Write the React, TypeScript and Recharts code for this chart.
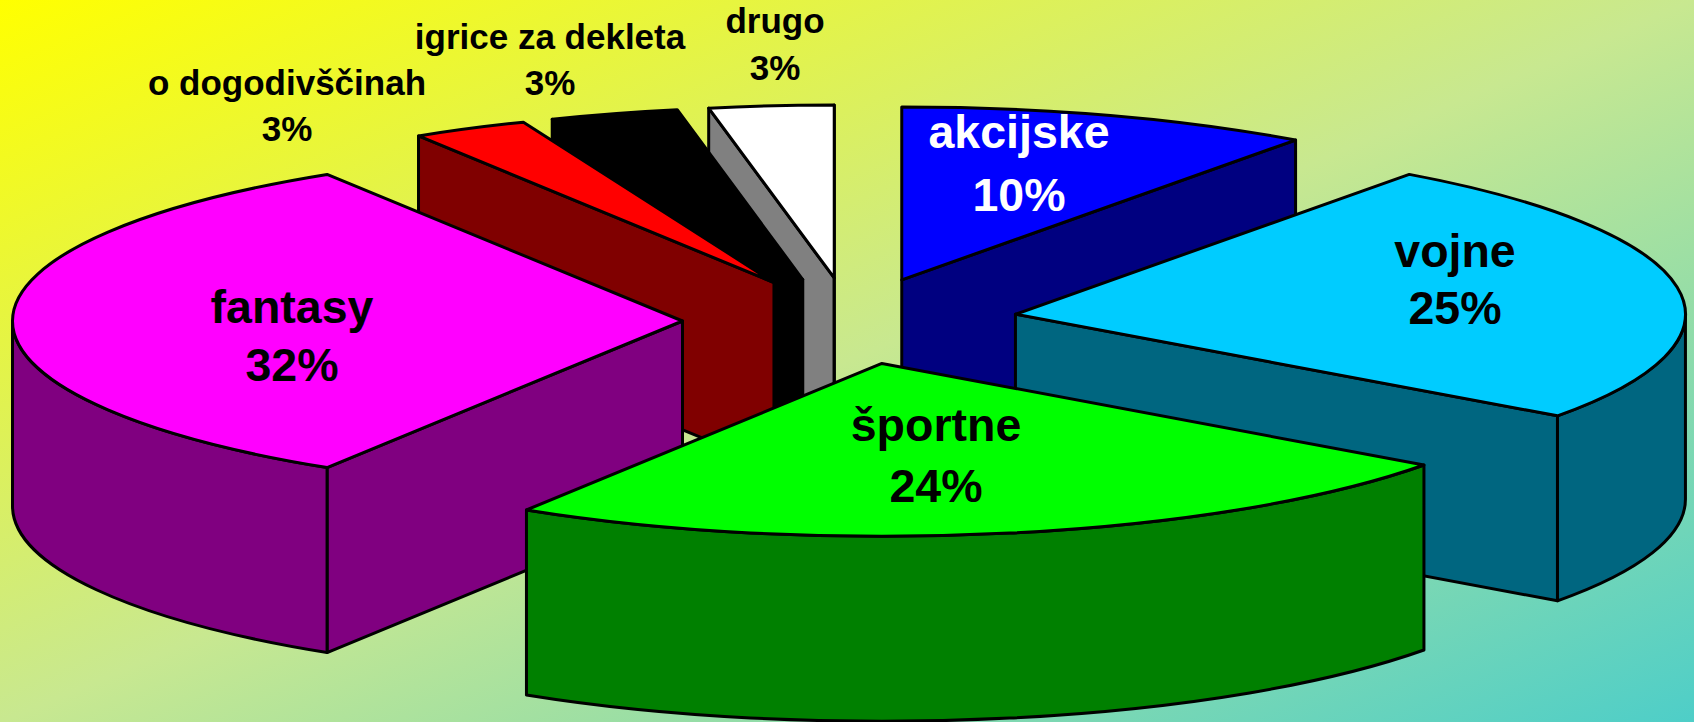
import { Pie, PieChart } from "recharts";

const CATEGORIES = ["akcijske", "vojne", "športne", "fantasy", "o dogodivščinah", "igrice za dekleta", "drugo"];
const VALUES = [10, 25, 23.9, 32.2, 2.8, 3.1, 3.0];
const TOP_COLORS = ["#0000FF", "#00CCFF", "#00FF00", "#FF00FF", "#FF0000", "#000000", "#FFFFFF"];
const SIDE_COLORS = ["#000080", "#006680", "#008000", "#800080", "#800000", "#000000", "#808080"];
const LABEL_COLORS = ["#FFFFFF", "#000000", "#000000", "#000000", "#000000", "#000000", "#000000"];

// back to front, a pie slice can only be painted over one drawn earlier
const DRAW_ORDER = ["akcijske", "drugo", "igrice za dekleta", "o dogodivščinah", "fantasy", "vojne", "športne"];

const W = 1694;
const H = 722;
const CX = 850;
const CY = 321;
const RX = 670;
const SQUASH = 0.258; // ry / rx of the tilted pie
const DEPTH = 185;
const EXPLODE = 0.25;

// label centre x, first baseline, second baseline
const LABEL_SPOTS = [
  [1019, 148, 211],
  [1455, 267, 324],
  [936, 441, 502],
  [292, 323, 381],
  [287, 95, 141],
  [550, 49, 95],
  [775, 33, 80],
];
const LABEL_SIZES = [46.5, 46.5, 46.5, 46.5, 35, 35, 35];

const data = CATEGORIES.map((name, i) => ({ name, value: VALUES[i] }));

/** Draws one exploded slice as an extruded elliptical wedge from the angles Recharts computed. */
function wedge(only: string) {
  return function Wedge(props: any) {
    const name = props.payload?.name ?? props.name;
    if (name !== only) return <g />;
    const i = CATEGORIES.indexOf(name);
    const R = props.outerRadius;
    const ry = R * SQUASH;
    const t0 = 90 - props.startAngle;
    const t1 = 90 - props.endAngle;
    const mid = ((t0 + t1) / 2) * (Math.PI / 180);
    const ax = props.cx + R * EXPLODE * Math.sin(mid);
    const ay = props.cy - ry * EXPLODE * Math.cos(mid);
    const rim = (t: number) => {
      const a = (t * Math.PI) / 180;
      return [ax + R * Math.sin(a), ay - ry * Math.cos(a)];
    };
    const [sx, sy] = rim(t0);
    const [ex, ey] = rim(t1);
    const large = t1 - t0 > 180 ? 1 : 0;
    const side = SIDE_COLORS[i];
    const line = { stroke: "#000", strokeWidth: 3, strokeLinejoin: "round" as const };

    const cut = (x: number, y: number) => (
      <path d={`M${ax},${ay} L${x},${y} L${x},${y + DEPTH} L${ax},${ay + DEPTH} Z`} fill={side} {...line} />
    );
    const w0 = Math.max(t0, 90);
    const w1 = Math.min(t1, 270);
    let wall = null;
    if (w1 > w0) {
      const [x0, y0] = rim(w0);
      const [x1, y1] = rim(w1);
      wall = (
        <path
          d={`M${x0},${y0} A${R},${ry} 0 0 1 ${x1},${y1} L${x1},${y1 + DEPTH} A${R},${ry} 0 0 0 ${x0},${y0 + DEPTH} Z`}
          fill={side}
          {...line}
        />
      );
    }
    return (
      <g>
        {sx < ax && cut(sx, sy)}
        {ex > ax && cut(ex, ey)}
        {wall}
        <path d={`M${ax},${ay} L${sx},${sy} A${R},${ry} 0 ${large} 1 ${ex},${ey} Z`} fill={TOP_COLORS[i]} {...line} />
      </g>
    );
  };
}

function sliceLabel(props: any) {
  const i = props.index;
  const [x, y1, y2] = LABEL_SPOTS[i];
  const style = { fontFamily: "Liberation Sans", fontWeight: 700, fontSize: LABEL_SIZES[i] };
  return (
    <text key={i} textAnchor="middle" fill={LABEL_COLORS[i]} style={style}>
      <tspan x={x} y={y1}>{CATEGORIES[i]}</tspan>
      <tspan x={x} y={y2}>{`${Math.round(props.percent * 100)}%`}</tspan>
    </text>
  );
}

export default function App() {
  return (
    <div
      style={{
        position: "absolute",
        left: 0,
        top: 0,
        width: W,
        height: H,
        overflow: "hidden",
        background: "linear-gradient(to bottom right, #FFFF00 0%, #C8E890 50%, #4ECEC8 100%)",
      }}
    >
      <PieChart width={W} height={H} margin={{ top: 0, right: 0, bottom: 0, left: 0 }}>
        {DRAW_ORDER.map((name) => (
          <Pie
            key={name}
            data={data}
            dataKey="value"
            nameKey="name"
            cx={CX}
            cy={CY}
            innerRadius={0}
            outerRadius={RX}
            startAngle={90}
            endAngle={-270}
            shape={wedge(name)}
            isAnimationActive={false}
          />
        ))}
        <Pie
          data={data}
          dataKey="value"
          nameKey="name"
          cx={CX}
          cy={CY}
          innerRadius={0}
          outerRadius={RX}
          startAngle={90}
          endAngle={-270}
          shape={() => <g />}
          label={sliceLabel}
          labelLine={false}
          isAnimationActive={false}
        />
      </PieChart>
    </div>
  );
}
